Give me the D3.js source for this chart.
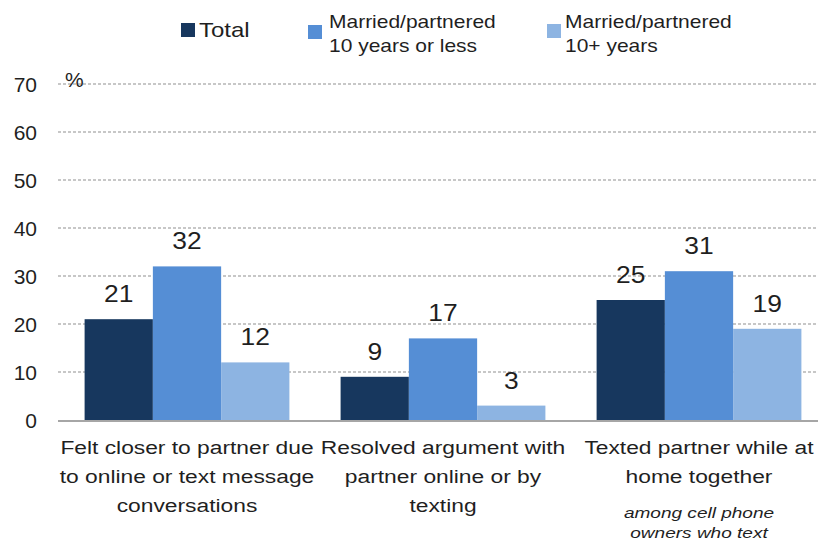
<!DOCTYPE html>
<html><head><meta charset="utf-8">
<script src="https://cdn.jsdelivr.net/npm/d3@7"></script>
<style>
body{margin:0;background:#fff;}
svg{display:block;}
</style></head>
<body>
<svg id="chart" width="818" height="542"></svg>
<script>
const categories = [
  ["Felt closer to partner due","to online or text message","conversations"],
  ["Resolved argument with","partner online or by","texting"],
  ["Texted partner while at","home together"]
];
const categoryKeys = ["felt","resolved","texted"];
const seriesNames = ["Total","Married/partnered 10 years or less","Married/partnered 10+ years"];
const legendLines = [["Total"],["Married/partnered","10 years or less"],["Married/partnered","10+ years"]];
const totalValues = [21, 9, 25];
const under10Values = [32, 17, 31];
const over10Values = [12, 3, 19];
const yTicks = [0,10,20,30,40,50,60,70];
const noteLines = ["among cell phone","owners who text"];
const colors = ["#17375e","#558ed5","#8db4e2"];

const series = [totalValues, under10Values, over10Values];
const svg = d3.select("#chart");
const sans = "'Liberation Sans',Arial,sans-serif";
const ink = "#1f1f1f";

// text helper with horizontal stretch
function stext(parent, x, y, str, size, sx, anchor, italic){
  const t = parent.append("text")
    .attr("transform",`translate(${x},${y}) scale(${sx},1)`)
    .attr("text-anchor",anchor||"start")
    .attr("font-family",sans).attr("font-size",size).attr("fill",ink)
    .text(str);
  if(italic) t.attr("font-style","italic");
  return t;
}

const y = d3.scaleLinear().domain([0,70]).range([420,84]);
const x0 = d3.scaleBand().domain(categoryKeys).range([59,827]).paddingInner(0.2).paddingOuter(0.1);
const x1 = d3.scaleBand().domain([0,1,2]).range([0,x0.bandwidth()]);

// gridlines
svg.append("g").selectAll("line").data(yTicks.filter(d=>d>0)).join("line")
  .attr("x1",58).attr("x2",818)
  .attr("y1",d=>y(d)).attr("y2",d=>y(d))
  .attr("stroke","#b5b5b5").attr("stroke-width",1.5).attr("stroke-dasharray","3,2");

// y axis tick labels
const yAxis = d3.axisLeft(y).tickValues(yTicks).tickSize(0).tickPadding(0);
const ga = svg.append("g").attr("transform","translate(37,0)").call(yAxis);
ga.select(".domain").remove();
ga.selectAll("text").attr("font-family",sans).attr("font-size",21).attr("fill",ink).attr("dy","0.36em");

stext(svg, 65, y(70)+3, "%", 20, 1.05, "start");

// bars
const groups = svg.append("g").selectAll("g").data(categoryKeys).join("g")
  .attr("transform",d=>`translate(${x0(d)},0)`);
const cells = (d,i)=>series.map((s,j)=>({j,v:s[i]}));
groups.selectAll("rect").data(cells).join("rect")
  .attr("x",d=>x1(d.j)).attr("width",x1.bandwidth())
  .attr("y",d=>y(d.v)).attr("height",d=>y(0)-y(d.v))
  .attr("fill",d=>colors[d.j]);
groups.each(function(k,i){
  const g = d3.select(this);
  cells(k,i).forEach(d=>{
    stext(g, x1(d.j)+x1.bandwidth()/2, y(d.v)-17, d.v, 24, 1.1, "middle");
  });
});

// baseline
svg.append("line").attr("x1",58).attr("x2",818).attr("y1",y(0)+1).attr("y2",y(0)+1)
  .attr("stroke","#a6a6a6").attr("stroke-width",2);

// category labels
categoryKeys.forEach((k,i)=>{
  const cx = x0(k)+x0.bandwidth()/2;
  categories[i].forEach((line,li)=>{
    stext(svg, cx, 454+li*29, line, 19, 1.2, "middle");
  });
});
// note
const cx3 = x0(categoryKeys[2])+x0.bandwidth()/2;
noteLines.forEach((l,li)=>stext(svg, cx3, 518+li*20, l, 15, 1.27, "middle", true));

// legend
const legendPos = [{sx:181,sy:23,tx:199},{sx:308,sy:25,tx:329},{sx:547,sy:24,tx:565}];
legendLines.forEach((lines,i)=>{
  const p = legendPos[i];
  svg.append("rect").attr("x",p.sx).attr("y",p.sy).attr("width",14).attr("height",14).attr("fill",colors[i]);
  if(lines.length===1){
    stext(svg, p.tx, 37, lines[0], 20, 1.2, "start");
  } else {
    lines.forEach((l,li)=>stext(svg, p.tx, 28+li*24, l, 17.5, 1.2, "start"));
  }
});
</script>
</body></html>
